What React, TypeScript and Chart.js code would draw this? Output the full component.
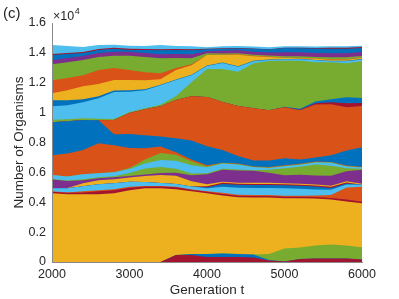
import React, { useEffect, useRef } from "react";
import { Chart, registerables } from "chart.js";

Chart.register(...registerables);

// Generation (x) positions
const generations = [2000, 2200, 2400, 2600, 2800, 3000, 3200, 3400, 3600, 3800, 4000, 4200, 4400, 4600, 4800, 5000, 5200, 5400, 5600, 5800, 6000];

// Layer sizes (number of organisms), bottom of the stack first
const redBottom = [0, 0, 0, 0, 0, 0, 0, 0, 470, 470, 340, 340, 340, 300, 100, 30, 200, 230, 230, 230, 170];
const blueBottom = [0, 0, 0, 0, 0, 0, 0, 0, 0, 70, 200, 230, 200, 200, 30, 0, 0, 0, 0, 0, 0];
const greenBottom = [0, 0, 0, 0, 0, 0, 0, 0, 0, 0, 0, 0, 0, 0, 400, 870, 770, 870, 940, 870, 810];
const yellowBase = [4600, 4530, 4530, 4530, 4600, 4800, 4930, 4930, 4400, 4190, 4060, 3890, 3790, 3820, 3790, 3360, 3290, 3150, 3020, 2950, 2950];
const redMix = [100, 100, 130, 200, 200, 170, 130, 130, 130, 100, 100, 100, 100, 100, 100, 100, 100, 100, 100, 130, 100];
const orangeMix = [30, 30, 70, 70, 70, 70, 30, 30, 30, 30, 30, 70, 70, 70, 70, 70, 70, 100, 200, 810, 1010];
const lightBlueMix = [200, 270, 340, 400, 400, 340, 270, 200, 200, 200, 200, 400, 470, 470, 470, 500, 470, 400, 340, 200, 130];
const blueMix = [0, 0, 0, 0, 0, 0, 0, 0, 0, 0, 70, 200, 200, 200, 200, 200, 200, 200, 130, 70, 0];
const redMix2 = [0, 0, 0, 0, 0, 0, 0, 0, 0, 0, 70, 70, 70, 70, 70, 70, 70, 70, 70, 70, 0];
const yellowMid = [0, 30, 200, 270, 270, 270, 400, 540, 540, 340, 130, 70, 70, 70, 70, 70, 70, 70, 70, 70, 70];
const purpleMid = [600, 470, 200, 130, 130, 100, 100, 130, 200, 400, 670, 810, 810, 810, 670, 540, 600, 600, 670, 670, 940];
const greenMid = [30, 30, 70, 70, 70, 200, 400, 400, 270, 130, 70, 70, 70, 30, 200, 470, 540, 740, 670, 200, 70];
const lightBlueMid = [270, 270, 340, 270, 270, 270, 340, 470, 540, 540, 400, 340, 340, 200, 130, 130, 130, 130, 200, 130, 70];
const greenMid2 = [0, 0, 0, 0, 0, 70, 270, 470, 400, 270, 70, 30, 30, 30, 30, 30, 30, 30, 30, 30, 30];
const orangeLow = [1310, 1540, 1610, 2010, 1810, 1340, 740, 440, 170, 130, 70, 30, 30, 30, 30, 30, 30, 30, 30, 30, 30];
const blueMid = [2210, 2150, 2010, 1540, 740, 940, 870, 670, 940, 1270, 1270, 840, 500, 400, 440, 470, 300, 270, 440, 1010, 1310];
const orangeBig = [0, 0, 0, 0, 940, 1410, 1740, 2010, 2550, 2950, 3290, 3220, 3360, 3490, 3360, 3420, 3290, 3560, 3420, 2890, 2750];
const redUp = [0, 0, 0, 0, 0, 0, 0, 0, 0, 0, 0, 0, 0, 0, 0, 0, 30, 70, 130, 270, 200];
const blueUp = [0, 0, 0, 0, 0, 0, 0, 0, 0, 0, 0, 0, 0, 0, 0, 30, 70, 130, 200, 400, 340];
const greenBig = [170, 130, 130, 100, 70, 70, 70, 100, 270, 940, 1880, 2210, 2280, 3020, 3290, 3090, 3220, 2620, 2480, 2280, 2480];
const lightBlueUp = [910, 940, 1070, 1380, 1810, 1340, 1210, 1310, 1070, 470, 200, 400, 340, 130, 70, 70, 100, 130, 70, 130, 100];
const blueThin = [400, 340, 200, 130, 100, 100, 70, 30, 30, 30, 30, 30, 30, 30, 30, 30, 30, 30, 30, 30, 30];
const yellowUp = [470, 670, 870, 810, 700, 700, 600, 370, 640, 640, 700, 500, 770, 300, 170, 70, 30, 70, 70, 70, 70];
const orangeUp = [870, 810, 740, 940, 810, 670, 540, 400, 130, 70, 30, 30, 30, 30, 30, 30, 30, 30, 30, 30, 30];
const greenUp = [1070, 1070, 1010, 870, 810, 940, 1010, 1010, 670, 400, 100, 70, 70, 70, 70, 100, 100, 100, 130, 130, 100];
const purpleTop = [270, 270, 270, 270, 270, 270, 270, 270, 270, 270, 130, 200, 200, 200, 200, 270, 270, 270, 270, 270, 270];
const blueTop = [340, 270, 200, 200, 200, 130, 200, 270, 270, 270, 130, 130, 130, 200, 200, 270, 270, 300, 300, 300, 270];
const redTop = [70, 70, 70, 70, 70, 70, 70, 70, 70, 70, 30, 30, 30, 30, 30, 30, 30, 30, 70, 70, 70];
const lightBlueTop = [600, 470, 340, 270, 200, 200, 200, 270, 200, 200, 100, 130, 130, 130, 130, 100, 100, 100, 100, 100, 70];

// Axis ticks
const xTicks = [2000, 3000, 4000, 5000, 6000];
const yTicks = [0, 2000, 4000, 6000, 8000, 10000, 12000, 14000, 16000];

const BLUE = "#0072BD";
const ORANGE = "#D95319";
const YELLOW = "#EDB120";
const PURPLE = "#7E2F8E";
const GREEN = "#77AC30";
const LIGHTBLUE = "#4DBEEE";
const DARKRED = "#A2142F";

const FONT = "'Liberation Sans', Arial, Helvetica, sans-serif";
const TEXT = "#262626";
const AXIS = "#8a8a8a";

export default function App() {
  const ref = useRef<HTMLCanvasElement>(null);

  useEffect(() => {
    const layers: [string, string, number[]][] = [
      ["redBottom", DARKRED, redBottom],
      ["blueBottom", BLUE, blueBottom],
      ["greenBottom", GREEN, greenBottom],
      ["yellowBase", YELLOW, yellowBase],
      ["redMix", DARKRED, redMix],
      ["orangeMix", ORANGE, orangeMix],
      ["lightBlueMix", LIGHTBLUE, lightBlueMix],
      ["blueMix", BLUE, blueMix],
      ["redMix2", DARKRED, redMix2],
      ["yellowMid", YELLOW, yellowMid],
      ["purpleMid", PURPLE, purpleMid],
      ["greenMid", GREEN, greenMid],
      ["lightBlueMid", LIGHTBLUE, lightBlueMid],
      ["greenMid2", GREEN, greenMid2],
      ["orangeLow", ORANGE, orangeLow],
      ["blueMid", BLUE, blueMid],
      ["orangeBig", ORANGE, orangeBig],
      ["redUp", DARKRED, redUp],
      ["blueUp", BLUE, blueUp],
      ["greenBig", GREEN, greenBig],
      ["lightBlueUp", LIGHTBLUE, lightBlueUp],
      ["blueThin", BLUE, blueThin],
      ["yellowUp", YELLOW, yellowUp],
      ["orangeUp", ORANGE, orangeUp],
      ["greenUp", GREEN, greenUp],
      ["purpleTop", PURPLE, purpleTop],
      ["blueTop", BLUE, blueTop],
      ["redTop", DARKRED, redTop],
      ["lightBlueTop", LIGHTBLUE, lightBlueTop],
    ];

    const annotations = {
      id: "annotations",
      afterDraw(chart: any) {
        const ctx = chart.ctx;
        ctx.save();
        ctx.fillStyle = TEXT;
        ctx.textBaseline = "alphabetic";
        ctx.textAlign = "left";
        ctx.font = `15px ${FONT}`;
        ctx.fillText("(c)", 3, 18);
        ctx.font = `12.5px ${FONT}`;
        const base = "\u00D710";
        ctx.fillText(base, 53, 20);
        const w = ctx.measureText(base).width;
        ctx.font = `9px ${FONT}`;
        ctx.fillText("4", 53 + w + 0.5, 14);
        ctx.restore();
      },
    };

    const chart = new Chart(ref.current as HTMLCanvasElement, {
      type: "line",
      data: {
        labels: generations,
        datasets: layers.map(([name, color, data]) => ({
          label: name,
          data,
          backgroundColor: color,
          borderColor: "rgba(0,0,0,0)",
          borderWidth: 0,
          pointRadius: 0,
          pointHoverRadius: 0,
          fill: "origin",
          tension: 0,
        })),
      },
      options: {
        responsive: false,
        animation: false,
        devicePixelRatio: 1,
        layout: { padding: { top: 23, right: 37, left: 0, bottom: 0 } },
        plugins: {
          legend: { display: false },
          tooltip: { enabled: false },
        },
        scales: {
          x: {
            type: "linear",
            min: 2000,
            max: 6000,
            afterFit: (s: any) => {
              s.height = 37;
            },
            afterBuildTicks: (s: any) => {
              s.ticks = xTicks.map((v) => ({ value: v }));
            },
            grid: { display: false, drawTicks: false },
            border: { display: true, color: AXIS, width: 1, z: 1 },
            ticks: {
              padding: 5,
              color: TEXT,
              font: { family: FONT, size: 12.5 },
              maxRotation: 0,
              autoSkip: false,
              callback: (v: any) => String(v),
            },
            title: {
              display: true,
              text: "Generation t",
              color: TEXT,
              font: { family: FONT, size: 13.5 },
              padding: { top: 0, bottom: 1 },
            },
          },
          y: {
            type: "linear",
            stacked: true,
            min: 0,
            max: 16000,
            afterFit: (s: any) => {
              s.width = 52;
            },
            afterBuildTicks: (s: any) => {
              s.ticks = yTicks.map((v) => ({ value: v }));
            },
            grid: { display: false, drawTicks: false },
            border: { display: true, color: AXIS, width: 1, z: 1 },
            ticks: {
              padding: 6,
              color: TEXT,
              font: { family: FONT, size: 12.5 },
              autoSkip: false,
              callback: (v: any) => String(Math.round(Number(v) / 1000) / 10),
            },
            title: {
              display: true,
              text: "Number of Organisms",
              color: TEXT,
              font: { family: FONT, size: 13.5 },
              padding: { top: 11, bottom: 0 },
            },
          },
        },
      },
      plugins: [annotations],
    });

    return () => chart.destroy();
  }, []);

  return (
    <div style={{ position: "fixed", left: 0, top: 0, width: 399, height: 299, background: "#fff" }}>
      <canvas ref={ref} width={399} height={299} style={{ width: 399, height: 299, display: "block" }} />
    </div>
  );
}
